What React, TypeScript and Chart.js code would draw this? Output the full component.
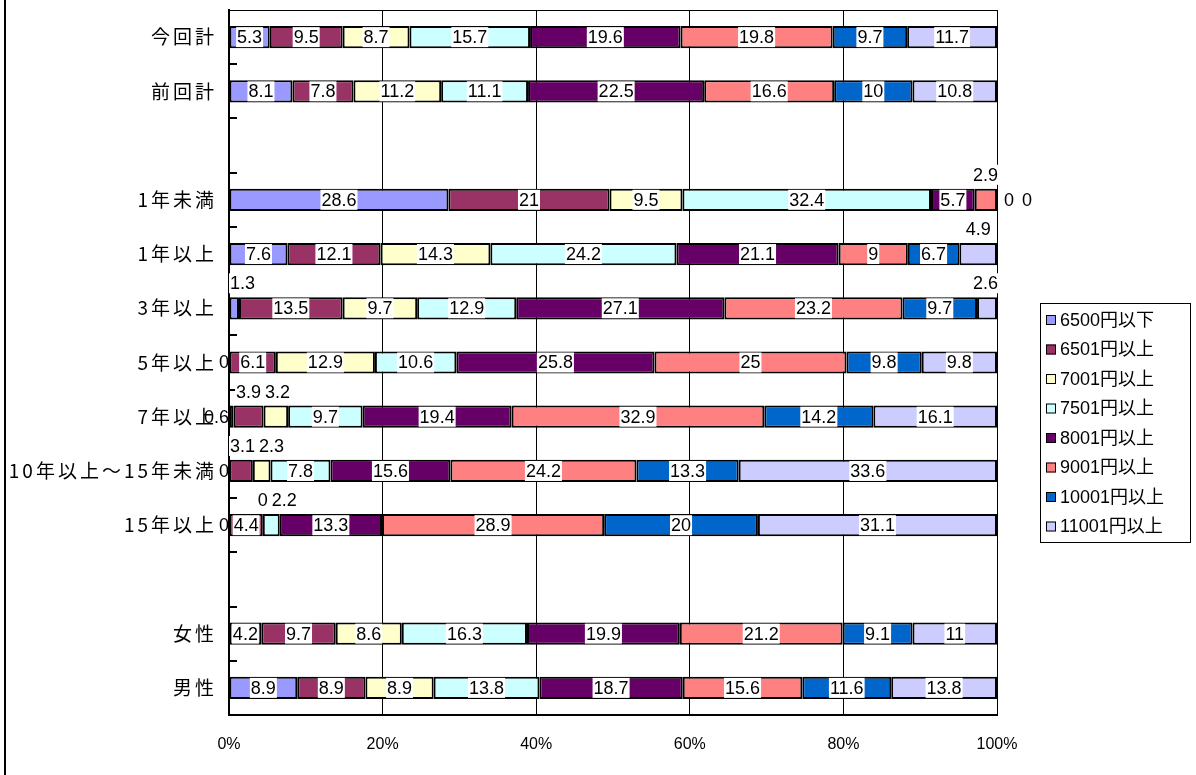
import React, { useEffect, useRef } from 'react';
import { Chart, registerables } from 'chart.js';

Chart.register(...registerables);

const categories = [
  '今回計', '前回計', '', '1年未満', '1年以上', '3年以上', '5年以上', '7年以上',
  '10年以上～15年未満', '15年以上', '', '女性', '男性',
];
const seriesNames = [
  '6500円以下', '6501円以上', '7001円以上', '7501円以上',
  '8001円以上', '9001円以上', '10001円以上', '11001円以上',
];
const seriesColors = ['#9999FF', '#993366', '#FFFFCC', '#CCFFFF', '#660066', '#FF8080', '#0066CC', '#CCCCFF'];

const s6500 = [5.3, 8.1, null, 28.6, 7.6, 1.3, 0, 0.6, 0, 0, null, 4.2, 8.9];
const s6501 = [9.5, 7.8, null, 21, 12.1, 13.5, 6.1, 3.9, 3.1, 4.4, null, 9.7, 8.9];
const s7001 = [8.7, 11.2, null, 9.5, 14.3, 9.7, 12.9, 3.2, 2.3, 0, null, 8.6, 8.9];
const s7501 = [15.7, 11.1, null, 32.4, 24.2, 12.9, 10.6, 9.7, 7.8, 2.2, null, 16.3, 13.8];
const s8001 = [19.6, 22.5, null, 5.7, 21.1, 27.1, 25.8, 19.4, 15.6, 13.3, null, 19.9, 18.7];
const s9001 = [19.8, 16.6, null, 2.9, 9, 23.2, 25, 32.9, 24.2, 28.9, null, 21.2, 15.6];
const s10001 = [9.7, 10, null, 0, 6.7, 9.7, 9.8, 14.2, 13.3, 20, null, 9.1, 11.6];
const s11001 = [11.7, 10.8, null, 0, 4.9, 2.6, 9.8, 16.1, 33.6, 31.1, null, 11, 13.8];
const seriesValues = [s6500, s6501, s7001, s7501, s8001, s9001, s10001, s11001];

const xTickValues = [0, 20, 40, 60, 80, 100];

// label placement exceptions: [category, series index]
const labelsAbove: [string, number][] = [
  ['1年未満', 5], ['1年以上', 7], ['3年以上', 0], ['3年以上', 7],
  ['7年以上', 1], ['7年以上', 2], ['10年以上～15年未満', 1], ['10年以上～15年未満', 2],
  ['15年以上', 2], ['15年以上', 3],
];
const labelsLeft: [string, number][] = [['7年以上', 0]];

const rowSums = categories.map((_, r) =>
  seriesValues.reduce((a, s) => a + (s[r] == null ? 0 : (s[r] as number)), 0)
);
const normalized = seriesValues.map((s) =>
  s.map((v, r) => (v == null ? null : ((v as number) / rowSums[r]) * 100))
);

const LABEL_FONT = '18px "Liberation Sans", Arial, sans-serif';
const LEGEND_FONT = '18px "Liberation Sans", "Noto Sans CJK JP", sans-serif';

const has = (list: [string, number][], c: string, s: number) => list.some(([a, b]) => a === c && b === s);

const decorPlugin = {
  id: 'decor',
  beforeDraw(chart: any) {
    chart.ctx.letterSpacing = '3px';
  },
  beforeDatasetsDraw(chart: any) {
    const ctx = chart.ctx;
    ctx.letterSpacing = '0px';
    const { left, right, top, bottom } = chart.chartArea;
    ctx.save();
    ctx.strokeStyle = '#000';
    ctx.lineWidth = 1;
    ctx.beginPath();
    ctx.moveTo(left, top + 0.5);
    ctx.lineTo(right, top + 0.5);
    ctx.stroke();
    // inward tick marks on category axis
    const step = (bottom - top) / categories.length;
    ctx.lineWidth = 2;
    for (let i = 1; i < categories.length; i++) {
      const y = Math.round(top + i * step);
      ctx.beginPath();
      ctx.moveTo(left, y);
      ctx.lineTo(left + 8, y);
      ctx.stroke();
    }
    ctx.restore();
  },
  afterDatasetsDraw(chart: any) {
    const ctx = chart.ctx;
    const { left, right } = chart.chartArea;
    ctx.save();
    ctx.letterSpacing = '0px';
    ctx.font = LABEL_FONT;
    ctx.textBaseline = 'middle';
    ctx.textAlign = 'center';
    const H = 20;
    categories.forEach((cat, r) => {
      const above: { x: number; y: number; w: number; t: string }[] = [];
      let rightCount = 0;
      seriesValues.forEach((s, si) => {
        const v = s[r];
        if (v == null) return;
        const el = chart.getDatasetMeta(si).data[r];
        const x0 = Math.min(el.base, el.x);
        const x1 = Math.max(el.base, el.x);
        const cx = (x0 + x1) / 2;
        const cy = el.y;
        const t = String(v);
        const w = ctx.measureText(t).width + 2;
        let bx: number;
        let box = true;
        if (has(labelsAbove, cat, si)) {
          above.push({ x: cx, y: cy - 25, w, t });
          return;
        } else if (has(labelsLeft, cat, si) || (v === 0 && x0 - left < 1)) {
          bx = left - w / 2 + 1;
          box = false;
        } else if (v === 0 && right - x0 < 1) {
          bx = right + 6 + w / 2 + rightCount * 18;
          rightCount++;
          box = false;
        } else {
          bx = cx;
        }
        if (box) {
          ctx.fillStyle = '#fff';
          ctx.fillRect(bx - w / 2, cy - H / 2, w, H);
        }
        ctx.fillStyle = '#000';
        ctx.fillText(t, bx, cy + 1);
      });
      above.sort((a, b) => a.x - b.x);
      let prevRight = left;
      above.forEach((a) => {
        let l = a.x - a.w / 2;
        if (l < prevRight) l = prevRight;
        if (l + a.w > right + 2) l = right + 2 - a.w;
        prevRight = l + a.w + 2;
        ctx.fillStyle = '#fff';
        ctx.fillRect(l, a.y - H / 2, a.w, H);
        ctx.fillStyle = '#000';
        ctx.fillText(a.t, l + a.w / 2, a.y + 1);
      });
    });
    ctx.restore();
  },
  afterDraw(chart: any) {
    const ctx = chart.ctx;
    ctx.save();
    ctx.letterSpacing = '0px';
    // outer frame line
    ctx.strokeStyle = '#000';
    ctx.lineWidth = 2;
    ctx.beginPath();
    ctx.moveTo(5, 0);
    ctx.lineTo(5, 775);
    ctx.stroke();
    // legend
    const lx = 1040, ly = 303, lw = 150, lh = 239;
    ctx.lineWidth = 1;
    ctx.fillStyle = '#fff';
    ctx.fillRect(lx, ly, lw, lh);
    ctx.strokeRect(lx + 0.5, ly + 0.5, lw, lh);
    ctx.font = LEGEND_FONT;
    ctx.textBaseline = 'middle';
    ctx.textAlign = 'left';
    seriesNames.forEach((name, i) => {
      const y = ly + 17 + i * 29.5;
      ctx.fillStyle = seriesColors[i];
      ctx.fillRect(lx + 6, y - 5, 10, 10);
      ctx.strokeStyle = '#000';
      ctx.strokeRect(lx + 6.5, y - 4.5, 9, 9);
      ctx.fillStyle = '#000';
      ctx.fillText(name, lx + 20, y + 1);
    });
    ctx.restore();
  },
};

export default function App() {
  const ref = useRef<HTMLCanvasElement | null>(null);
  useEffect(() => {
    if (!ref.current) return;
    const chart = new Chart(ref.current, {
      type: 'bar',
      data: {
        labels: categories,
        datasets: seriesNames.map((name, i) => ({
          label: name,
          data: normalized[i] as any,
          backgroundColor: seriesColors[i],
          borderColor: '#000',
          borderWidth: 2,
          borderSkipped: false,
          barPercentage: 0.41,
          categoryPercentage: 1,
        })),
      },
      options: {
        indexAxis: 'y',
        responsive: false,
        animation: false,
        events: [],
        layout: { padding: { left: 0, top: 10, right: 199, bottom: 0 } },
        plugins: { legend: { display: false }, tooltip: { enabled: false } },
        scales: {
          x: {
            stacked: true,
            min: 0,
            max: 100,
            afterFit: (s: any) => {
              s.height = 60;
              s.paddingLeft = 0;
              s.paddingRight = 0;
            },
            afterBuildTicks: (s: any) => { s.ticks = xTickValues.map((v) => ({ value: v })); },
            grid: { color: '#000', lineWidth: 1, drawTicks: false },
            border: { color: '#000', width: 2 },
            ticks: {
              z: 1,
              padding: 20,
              color: '#000',
              font: { family: '"Liberation Sans", Arial, sans-serif', size: 16 },
              callback: (v: any) => v + '%',
            },
          },
          y: {
            stacked: true,
            afterFit: (s: any) => {
              s.width = 229;
              s.paddingTop = 0;
              s.paddingBottom = 0;
            },
            grid: { display: false, drawTicks: false },
            border: { color: '#000', width: 2 },
            ticks: {
              autoSkip: false,
              padding: 12,
              color: '#000',
              font: { family: '"Noto Sans CJK JP", sans-serif', size: 19 },
            },
          },
        },
      },
      plugins: [decorPlugin],
    });
    return () => chart.destroy();
  }, []);
  return (
    <div style={{ position: 'absolute', left: 0, top: 0, width: 1196, height: 775, background: '#fff' }}>
      <canvas ref={ref} width={1196} height={775} />
    </div>
  );
}
